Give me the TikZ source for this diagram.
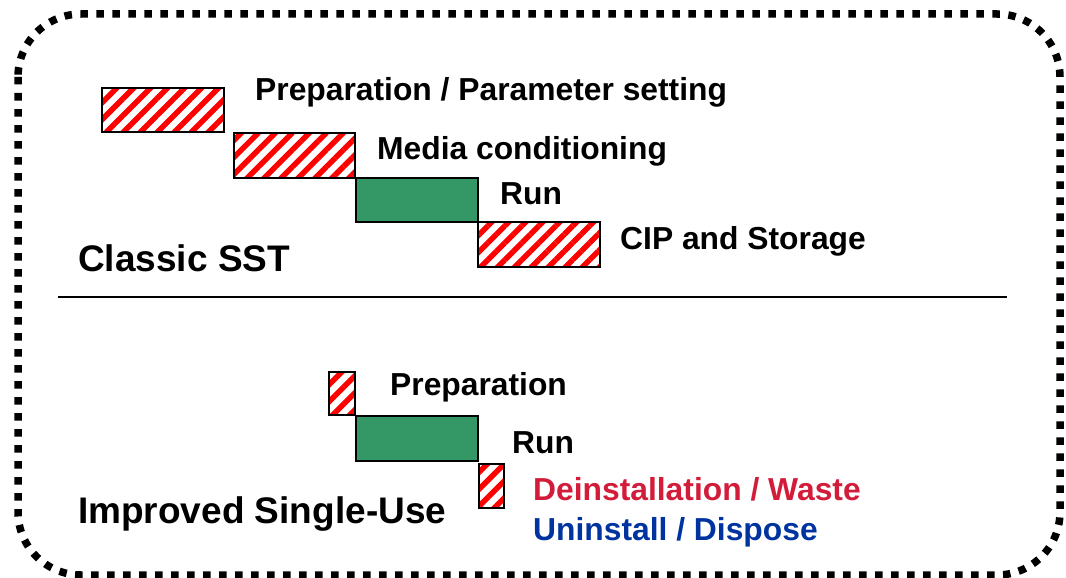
\documentclass[tikz,border=0pt]{standalone}
\usepackage{fontspec}
\setmainfont{Liberation Sans}
\usetikzlibrary{patterns.meta}
\definecolor{rungreen}{HTML}{349866}
\definecolor{wastered}{HTML}{D21C3A}
\definecolor{disposeblue}{HTML}{0033A0}
\begin{document}
\begin{tikzpicture}[x=1pt,y=-1pt,
  hatchbox/.style={draw=black,line width=1.3pt,
    pattern={Lines[angle=45,distance=12pt,line width=5.5pt]},pattern color=red},
  runbox/.style={draw=black,line width=1.3pt,fill=rungreen},
  lbl/.style={anchor=base west,inner sep=0pt,font=\fontsize{31.8}{36}\selectfont\bfseries},
  title/.style={anchor=base west,inner sep=0pt,font=\fontsize{37}{42}\selectfont\bfseries}]
\useasboundingbox (0,0) rectangle (1066,578);
\draw[line width=7.5pt,dash pattern=on 7.5pt off 8.5pt,rounded corners=63pt] (18,14) rectangle (1060,575);
% Classic SST
\draw[hatchbox] (102,88) rectangle (224,132) node[coordinate] (p1) {};
\draw[hatchbox] (234,133) rectangle (355,178) node[coordinate] (p2) {};
\draw[runbox] (356,178) rectangle (478,222) node[coordinate] (p3) {};
\draw[hatchbox] (478,222) rectangle (600,267) node[coordinate] (p4) {};
\node[lbl] (t1) at (255,100) {Preparation / Parameter setting};
\node[lbl] (t2) at (377,159) {Media conditioning};
\node[lbl] (t3) at (500,204) {Run};
\node[lbl] (t4) at (620,249) {CIP and Storage};
\node[title] (c) at (78,271) {Classic SST};
\coordinate (la) at (58,297);
\coordinate (lb) at (1007,297);
\draw[line width=1.3pt] (la) -- (lb);
% Improved
\draw[hatchbox] (329,372) rectangle (355,415) node[coordinate] (q1) {};
\draw[runbox] (356,416) rectangle (478,461) node[coordinate] (q2) {};
\draw[hatchbox] (479,464) rectangle (504,508) node[coordinate] (q3) {};
\node[lbl] (u1) at (390,395) {Preparation};
\node[lbl] (u2) at (512,453) {Run};
\node[lbl,text=wastered] (u3) at (533,500) {Deinstallation / Waste};
\node[lbl,text=disposeblue] (u4) at (533,540) {Uninstall / Dispose};
\node[title] (i) at (78,523) {Improved Single-Use};
\end{tikzpicture}
\end{document}
